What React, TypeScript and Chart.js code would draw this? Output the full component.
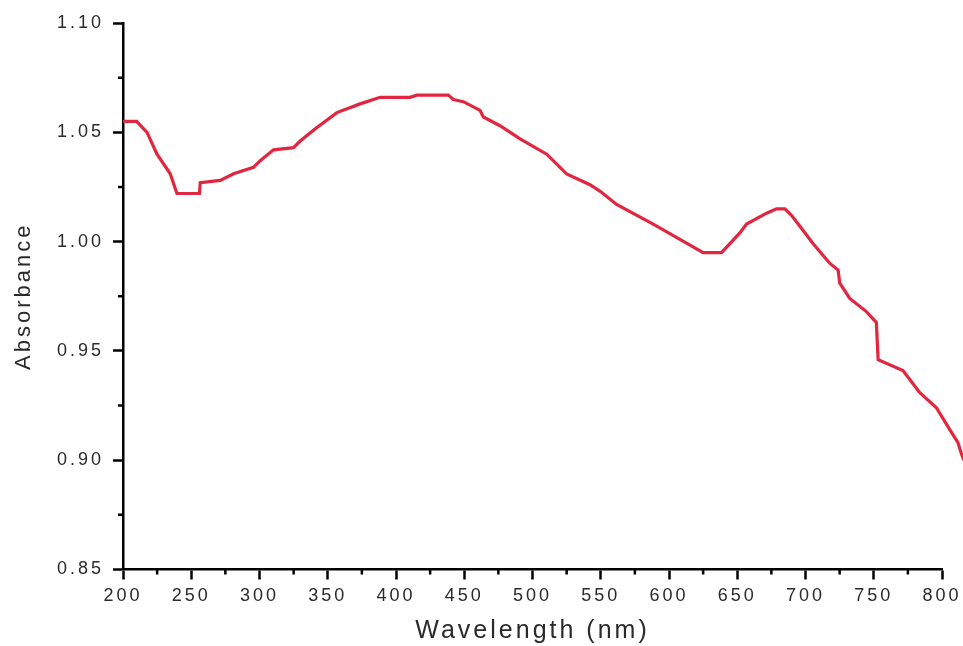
import React, { useEffect, useRef } from "react";
import { Chart, registerables } from "chart.js";

Chart.register(...registerables);

// Wavelength (nm)
const wavelength: number[] = [
  200, 210, 217.6, 224.9, 234.6, 239.5, 256, 256.6, 271.2, 281, 295.6, 300.5,
  310.3, 324.9, 329.8, 341.6, 356.7, 373.7, 388.4, 410.3, 415.2, 438.4, 442,
  449.3, 461.6, 464, 476.2, 490.9, 510.4, 525, 542.1, 549.6, 561.6, 588.4, 608,
  625, 638.5, 651.9, 656.8, 671.5, 678.8, 684.9, 689.7, 695.9, 705.6, 717.9,
  723.9, 725.1, 732.4, 744.6, 751.9, 753.2, 771.4, 783.6, 795.9, 805.7, 811.7,
  814.2, 816,
];

// Absorbance
const absorbance: number[] = [
  1.055, 1.055, 1.05, 1.04, 1.031, 1.022, 1.022, 1.027, 1.028, 1.031, 1.034,
  1.037, 1.042, 1.043, 1.046, 1.052, 1.059, 1.063, 1.066, 1.066, 1.067, 1.067,
  1.065, 1.064, 1.06, 1.057, 1.053, 1.047, 1.04, 1.031, 1.026, 1.023, 1.017,
  1.008, 1.001, 0.995, 0.995, 1.004, 1.008, 1.013, 1.015, 1.015, 1.012, 1.007,
  0.999, 0.99, 0.987, 0.981, 0.974, 0.968, 0.963, 0.946, 0.941, 0.931, 0.924,
  0.914, 0.908, 0.903, 0.9,
];

// Axis range and tick values
const X_MIN = 200;
const X_MAX = 800;
const xMinorTicks: number[] = [225, 275, 325, 375, 425, 475, 525, 575, 625, 675, 725, 775];
const yMinorTicks: number[] = [0.875, 0.925, 0.975, 1.025, 1.075];

const FONT = 'Arial, "Liberation Sans", sans-serif';
const SPACING = "3px";

const spacingPlugin = {
  id: "spacing",
  beforeUpdate(chart: any) {
    chart.ctx.letterSpacing = SPACING;
  },
  beforeDraw(chart: any) {
    chart.ctx.letterSpacing = SPACING;
  },
};

const minorTickPlugin = {
  id: "minorTicks",
  afterDraw(chart: any) {
    const { ctx } = chart;
    const x = chart.scales.x;
    const y = chart.scales.y;
    ctx.save();
    ctx.strokeStyle = "#000";
    ctx.lineWidth = 2.5;
    ctx.beginPath();
    for (const v of xMinorTicks) {
      const px = x.getPixelForValue(v);
      ctx.moveTo(px, y.bottom);
      ctx.lineTo(px, y.bottom + 5);
    }
    for (const v of yMinorTicks) {
      const py = y.getPixelForValue(v);
      ctx.moveTo(x.left, py);
      ctx.lineTo(x.left - 5, py);
    }
    ctx.stroke();
    ctx.restore();
  },
};

export default function App() {
  const ref = useRef<HTMLCanvasElement | null>(null);

  useEffect(() => {
    if (!ref.current) return;
    const chart = new Chart(ref.current, {
      type: "line",
      data: {
        datasets: [
          {
            data: wavelength.map((w, i) => ({ x: w, y: absorbance[i] })),
            borderColor: "#e2263f",
            borderWidth: 3.2,
            pointRadius: 0,
            tension: 0,
            fill: false,
            clip: false as any,
          },
        ],
      },
      options: {
        animation: false,
        responsive: false,
        maintainAspectRatio: false,
        layout: { padding: { top: 23, right: 21, left: 0, bottom: 0 } },
        plugins: { legend: { display: false }, tooltip: { enabled: false } },
        scales: {
          x: {
            type: "linear",
            afterDataLimits(s: any) {
              s.min = X_MIN;
              s.max = X_MAX;
            },
            ticks: {
              stepSize: 50,
              color: "#2a2a2a",
              font: { family: FONT, size: 18 },
              padding: 6,
              maxRotation: 0,
            },
            grid: {
              drawOnChartArea: false,
              drawTicks: true,
              tickLength: 10,
              tickColor: "#000",
              tickWidth: 2.5,
            },
            border: { color: "#000", width: 2.5 },
            title: {
              display: true,
              text: "Wavelength (nm)",
              color: "#2a2a2a",
              font: { family: FONT, size: 25 },
              padding: { top: 0, bottom: 0 },
            },
            afterFit(s: any) {
              s.height = 76.5;
              s.paddingLeft = 0;
              s.paddingRight = 0;
            },
          },
          y: {
            type: "linear",
            min: 0.85,
            max: 1.1,
            ticks: {
              stepSize: 0.05,
              color: "#2a2a2a",
              font: { family: FONT, size: 18 },
              padding: 9,
              callback: (v: any) => Number(v).toFixed(2),
            },
            grid: {
              drawOnChartArea: false,
              drawTicks: true,
              tickLength: 10,
              tickColor: "#000",
              tickWidth: 2.5,
            },
            border: { color: "#000", width: 2.5 },
            title: {
              display: true,
              text: "Absorbance",
              color: "#2a2a2a",
              font: { family: FONT, size: 22 },
              padding: { top: 11, bottom: 0 },
            },
            afterFit(s: any) {
              s.width = 123;
              s.paddingTop = 0;
              s.paddingBottom = 0;
            },
          },
        },
      },
      plugins: [spacingPlugin, minorTickPlugin],
    });
    return () => chart.destroy();
  }, []);

  return (
    <div style={{ position: "fixed", left: 0, top: 0, width: 963, height: 646, background: "#fff" }}>
      <canvas ref={ref} width={963} height={646} style={{ width: 963, height: 646, display: "block" }} />
    </div>
  );
}
